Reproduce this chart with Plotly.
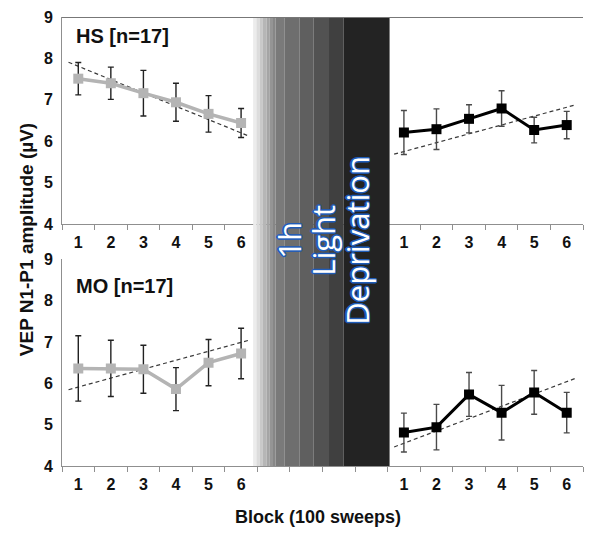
import plotly.graph_objects as go

# ---------------- data ----------------
blocks = [1, 2, 3, 4, 5, 6]
block_labels = ["1", "2", "3", "4", "5", "6"]
post_offset = 10  # post-deprivation blocks sit after the 4-slot gap

hs_pre = [7.51, 7.40, 7.16, 6.94, 6.66, 6.44]
hs_pre_err = [0.39, 0.39, 0.55, 0.46, 0.44, 0.35]
hs_post = [6.21, 6.29, 6.54, 6.79, 6.27, 6.39]
hs_post_err = [0.53, 0.49, 0.34, 0.43, 0.31, 0.33]

mo_pre = [6.36, 6.36, 6.34, 5.86, 6.50, 6.72]
mo_pre_err = [0.79, 0.68, 0.58, 0.52, 0.56, 0.61]
mo_post = [4.81, 4.94, 5.73, 5.29, 5.78, 5.29]
mo_post_err = [0.47, 0.55, 0.53, 0.66, 0.53, 0.49]

# linear trend lines: value at block 1 and block 6
hs_pre_trend = [7.81, 6.20]
hs_post_trend = [5.75, 6.82]
mo_pre_trend = [5.91, 6.99]
mo_post_trend = [4.55, 6.04]
trend_span = [0.7, 6.27]

y_ticks = [4, 5, 6, 7, 8, 9]

# ---------------- styles ----------------
FONT = "Liberation Sans, Arial, Helvetica, sans-serif"
GRAY = "#b4b4b4"
BLACK = "#000000"
AXIS = "#8f8f8f"

# gradient stripes (x in category units) and colours
stripe_edges = [6.37, 6.47, 6.57, 6.67, 6.78, 6.88, 6.98, 7.06, 7.34, 7.80, 8.23, 8.70, 9.15, 10.56]
stripe_colors = ["#ececec", "#dcdcdc", "#c9c9c9", "#b6b6b6", "#a5a5a5", "#959595",
                 "#878787", "#7a7a7a", "#6e6e6e", "#5f5f5f", "#525252", "#404040", "#232323"]


def trend_xy(tr, offset):
    slope = (tr[1] - tr[0]) / (blocks[-1] - blocks[0])
    xs = [trend_span[0], trend_span[1]]
    ys = [tr[0] + slope * (x - blocks[0]) for x in xs]
    return [x + offset for x in xs], ys


fig = go.Figure()


def add_series(vals, errs, trend, offset, color, lw, ecolor, xa, ya):
    xs = [b + offset for b in blocks]
    tx, ty = trend_xy(trend, offset)
    fig.add_trace(go.Scatter(x=tx, y=ty, mode="lines", xaxis=xa, yaxis=ya,
                             line=dict(color="#3a3a3a", width=1.2, dash="4px,3px"),
                             hoverinfo="skip", showlegend=False))
    fig.add_trace(go.Scatter(x=xs, y=vals, mode="lines+markers", xaxis=xa, yaxis=ya,
                             line=dict(color=color, width=lw),
                             marker=dict(symbol="square", size=10, color=color),
                             error_y=dict(type="data", array=errs, visible=True,
                                          color=ecolor, thickness=1.4, width=3),
                             showlegend=False))


add_series(hs_pre, hs_pre_err, hs_pre_trend, 0, GRAY, 3.5, "#222222", "x", "y")
add_series(hs_post, hs_post_err, hs_post_trend, post_offset, BLACK, 3, "#4a4a4a", "x", "y")
add_series(mo_pre, mo_pre_err, mo_pre_trend, 0, GRAY, 3.5, "#222222", "x2", "y2")
add_series(mo_post, mo_post_err, mo_post_trend, post_offset, BLACK, 3, "#4a4a4a", "x2", "y2")

tickvals = blocks + [b + post_offset for b in blocks]
ticktext = block_labels + block_labels
boundaries = [i + 0.5 for i in range(0, 17)]

xaxis_common = dict(range=[0.5, 16.5], showgrid=False, zeroline=False,
                    showline=True, linecolor=AXIS, linewidth=1, automargin=False,
                    tickmode="array", tickvals=tickvals, ticktext=ticktext,
                    ticks="", ticklabelstandoff=4,
                    tickfont=dict(family=FONT, size=16, color="#111111", weight="bold"),
                    minor=dict(tickmode="array", tickvals=boundaries, ticks="outside",
                               ticklen=5, tickcolor=AXIS, tickwidth=1),
                    fixedrange=True)
yaxis_common = dict(range=[4, 9], showgrid=False, zeroline=False,
                    showline=True, linecolor=AXIS, linewidth=1, automargin=False,
                    tickmode="array", tickvals=y_ticks, ticks="",
                    ticklabelstandoff=5,
                    tickfont=dict(family=FONT, size=16, color="#111111", weight="bold"),
                    fixedrange=True)

# page body has an 8px margin: figure is 592x525 so it fits the 600x533 window
fig.update_layout(
    width=592, height=525,
    margin=dict(l=54, r=16.5, t=9, b=67, autoexpand=False),
    paper_bgcolor="white", plot_bgcolor="white",
    xaxis=dict(domain=[0, 1], anchor="y", **xaxis_common),
    yaxis=dict(domain=[0.539, 1], anchor="x", **yaxis_common),
    xaxis2=dict(domain=[0, 1], anchor="y2", **xaxis_common),
    yaxis2=dict(domain=[0, 0.4604], anchor="x2", **yaxis_common),
)

shapes = []
for i, c in enumerate(stripe_colors):
    shapes.append(dict(type="rect", xref="x", yref="paper",
                       x0=stripe_edges[i], x1=stripe_edges[i + 1], y0=0, y1=0.998,
                       fillcolor=c, line=dict(width=0), layer="above"))
# top border line of the upper panel
shapes.append(dict(type="line", xref="x", yref="y", x0=0.35, x1=16.65, y0=9, y1=9,
                   line=dict(color="#4a4a4a", width=1.3), layer="above"))
fig.update_layout(shapes=shapes)

outline = "#1f5cb8"
shadow = ", ".join(f"{dx}px {dy}px 0 {outline}" for dx, dy in
                   [(-1, -1), (1, -1), (-1, 1), (1, 1), (0, 1.5), (0, -1.5), (1.5, 0), (-1.5, 0)])
dep_font = dict(family="Open Sans, Noto Sans, sans-serif", size=31, color="white", shadow=shadow)

annotations = [
    dict(text="HS [n=17]", xref="x", yref="y", x=0.88, y=8.53, xanchor="left", yanchor="middle",
         showarrow=False, font=dict(family=FONT, size=20, color="#111111", weight="bold")),
    dict(text="MO [n=17]", xref="x2", yref="y2", x=0.88, y=8.35, xanchor="left", yanchor="middle",
         showarrow=False, font=dict(family=FONT, size=20, color="#111111", weight="bold")),
    dict(text="VEP N1-P1 amplitude (\u00b5V)", xref="paper", yref="paper", x=-0.069, y=0.503,
         textangle=-90, showarrow=False, xanchor="center", yanchor="middle",
         font=dict(family=FONT, size=19, color="#111111", weight="bold")),
    dict(text="Block (100 sweeps)", xref="paper", yref="paper", x=0.491, y=-0.1136,
         showarrow=False, xanchor="center", yanchor="middle",
         font=dict(family=FONT, size=18, color="#111111", weight="bold")),
]
for txt, xp in [("1h", 289), ("Light", 323), ("Deprivation", 357)]:
    annotations.append(dict(text=txt, xref="paper", yref="paper",
                            x=(xp - 62) / 521.5, y=(466 - 240) / 449,
                            textangle=-90, showarrow=False, xanchor="center", yanchor="middle",
                            font=dep_font))
fig.update_layout(annotations=annotations)

fig.write_html("out.html")
